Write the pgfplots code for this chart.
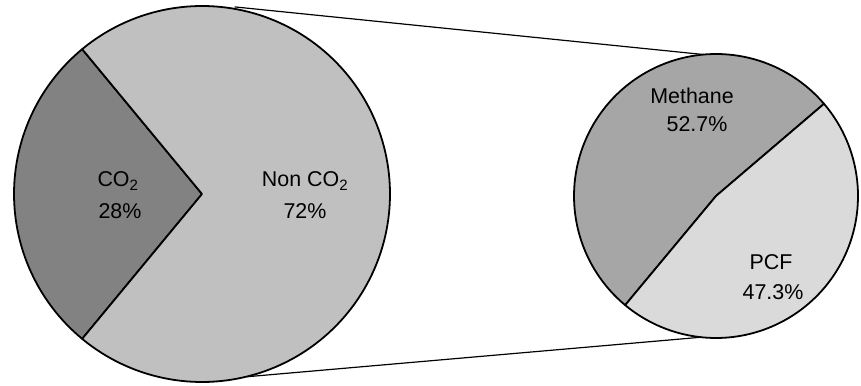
\documentclass[border=0pt]{standalone}
\usepackage{pgfplots}
\pgfplotsset{compat=1.18}
\usepackage{fontspec}
\setmainfont{Liberation Sans}

\definecolor{co2col}{RGB}{130,130,130}
\definecolor{nonco2col}{RGB}{192,192,192}
\definecolor{methcol}{RGB}{166,166,166}
\definecolor{pcfcol}{RGB}{218,218,218}

% shares (percent)
\def\shareCO{28}
\def\shareNon{72}
\def\shareMeth{52.7}
\def\sharePCF{47.3}

\begin{document}
\begin{tikzpicture}
% sector angles derived from the shares
\pgfmathsetmacro{\coStart}{180-\shareCO*3.6/2}
\pgfmathsetmacro{\coEnd}{180+\shareCO*3.6/2}
\pgfmathsetmacro{\nonEnd}{\coStart+360}
\pgfmathsetmacro{\mStart}{40.5}
\pgfmathsetmacro{\mEnd}{\mStart+\shareMeth*3.6}
\pgfmathsetmacro{\pEnd}{\mEnd+\sharePCF*3.6}
\begin{axis}[
  width=861bp, height=386bp, scale only axis,
  xmin=0, xmax=861, ymin=0, ymax=386,
  hide axis, clip=false,
  every axis plot/.append style={line width=1.8pt, line join=round},
]
% keep the full drawing area as the picture's extent
\path (rel axis cs:0,0) rectangle (rel axis cs:1,1);

% connector lines between the two pies
\addplot[black, line width=1.2pt] coordinates {(234.6,379.1) (706.1,331.2)};
\addplot[black, line width=1.2pt] coordinates {(247.5,9.3) (703.7,49.0)};

% main pie: CO2 vs non-CO2
\addplot[fill=co2col, draw=black, domain=\coStart:\coEnd, samples=60, variable=\t]
  ({202+188*cos(\t)},{192+188*sin(\t)}) -- (axis cs:202,192) -- cycle;
\addplot[fill=nonco2col, draw=black, domain=\coEnd:\nonEnd, samples=150, variable=\t]
  ({202+188*cos(\t)},{192+188*sin(\t)}) -- (axis cs:202,192) -- cycle;

% secondary pie: split of non-CO2
\addplot[fill=methcol, draw=black, domain=\mStart:\mEnd, samples=90, variable=\t]
  ({716+142*cos(\t)},{190+142*sin(\t)}) -- (axis cs:716,190) -- cycle;
\addplot[fill=pcfcol, draw=black, domain=\mEnd:\pEnd, samples=90, variable=\t]
  ({716+142*cos(\t)},{190+142*sin(\t)}) -- (axis cs:716,190) -- cycle;

% labels
\begin{scope}[every node/.style={font=\fontsize{21.5}{24}\selectfont, inner sep=0pt, align=center}]
\node at (axis cs:118,205) {CO\textsubscript{2}};
\node at (axis cs:120,175) {\shareCO\%};
\node at (axis cs:305,205) {Non CO\textsubscript{2}};
\node at (axis cs:305,175) {\shareNon\%};
\node at (axis cs:692,290) {Methane};
\node at (axis cs:697,262) {\shareMeth\%};
\node at (axis cs:771,124) {PCF};
\node at (axis cs:773,94) {\sharePCF\%};
\end{scope}
\end{axis}
\end{tikzpicture}
\end{document}
